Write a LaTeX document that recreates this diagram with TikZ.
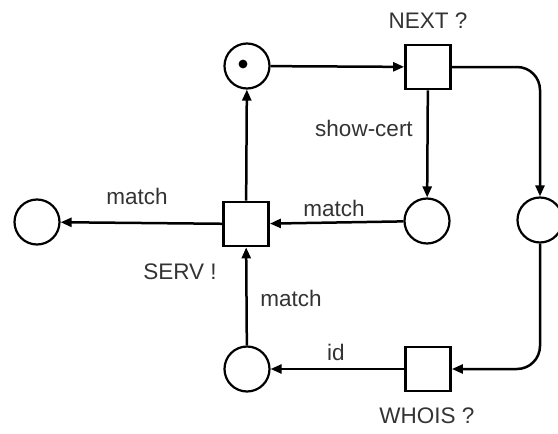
\documentclass[tikz,border=0pt]{standalone}
\usepackage{fontspec}
\setmainfont{Liberation Sans}
\usetikzlibrary{arrows.meta}
\begin{document}
\begin{tikzpicture}[x=1pt,y=-1pt,
  place/.style={circle,draw,line width=2.2pt,minimum size=45pt,inner sep=0pt},
  trans/.style={rectangle,draw,line width=2.8pt,minimum width=45pt,minimum height=44pt,inner sep=0pt},
  arc/.style={line width=2.5pt,-{Triangle[length=11pt,width=9pt]}},
  lbl/.style={font=\fontsize{22.5}{26}\selectfont,text=black!80,inner sep=0pt}]
  \useasboundingbox (0,0) rectangle (558,434);
  \clip (0,0) rectangle (558,434);

  % places
  \node[place] (pStart) at (247,66) {};
  \fill (243,64) circle (4.4pt);
  \node[place] (pCert) at (427,221) {};
  \node[place] (pAsk) at (540,220) {};
  \node[place] (pOut) at (37,222) {};
  \node[place] (pId) at (247,369) {};

  % transitions
  \node[trans] (tNext) at (428,67) {};
  \node[trans] (tServ) at (246,224) {};
  \node[trans] (tWhois) at (428,369) {};

  % transition and arc labels
  \node[lbl] (lNext) at (428,21) {NEXT ?};
  \node[lbl] (lServ) at (180,272) {SERV !};
  \node[lbl] (lWhois) at (427,416) {WHOIS ?};
  \node[lbl] (lCert) at (364,128) {show-cert};
  \node[lbl] (lM1) at (137,196) {match};
  \node[lbl] (lM2) at (334,208) {match};
  \node[lbl] (lM3) at (291,298) {match};
  \node[lbl] (lId) at (336,352) {id};

  % arcs
  \draw[arc] (pStart) -- (tNext);
  \draw[arc] (tNext) -- (pCert);
  \draw[arc,rounded corners=23pt] (tNext.east) -| (pAsk.north);
  \draw[arc,rounded corners=23pt] (pAsk.south) |- (tWhois.east);
  \draw[arc] (tWhois) -- (pId);
  \draw[arc] (pId) -- (tServ);
  \draw[arc] (pCert) -- (tServ);
  \draw[arc] (tServ) -- (pOut);
  \draw[arc] (tServ) -- (pStart);
\end{tikzpicture}
\end{document}
